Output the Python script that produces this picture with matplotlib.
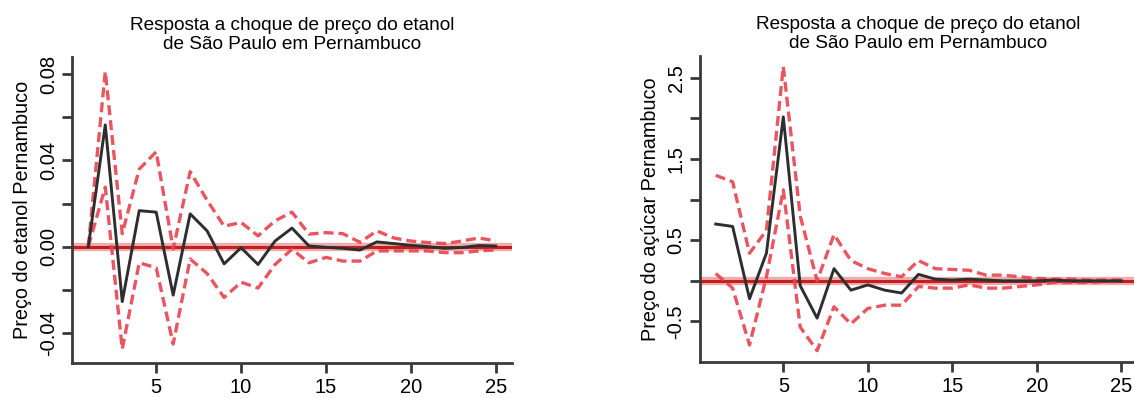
import numpy as np
import matplotlib
matplotlib.use("Agg")
import matplotlib.pyplot as plt

plt.rcParams['font.family'] = ['Liberation Sans', 'DejaVu Sans']

periods = list(range(1, 26))

# etanol Pernambuco
etanol_mean = [0.0, 0.0565, -0.0255, 0.0167, 0.0160, -0.0225, 0.0152, 0.0073, -0.0080, -0.0005,
               -0.0083, 0.0026, 0.0086, 0.0003, -0.0003, -0.0008, -0.0016, 0.0022, 0.0014, 0.0006,
               0.0, -0.0008, -0.0004, 0.0005, 0.0003]
etanol_upper = [0.0, 0.0813, 0.0060, 0.0360, 0.0440, -0.0010, 0.0348, 0.0215, 0.0095, 0.0112,
                0.0050, 0.0120, 0.0160, 0.0058, 0.0065, 0.0060, 0.0020, 0.0073, 0.0040, 0.0026,
                0.0019, 0.0014, 0.0026, 0.0040, 0.0027]
etanol_lower = [0.0, 0.0276, -0.0475, -0.0075, -0.0098, -0.0452, -0.0057, -0.0125, -0.0236, -0.0165,
                -0.0192, -0.0083, -0.0012, -0.0075, -0.0050, -0.0067, -0.0067, -0.0020, -0.0020, -0.0020,
                -0.0020, -0.0028, -0.0028, -0.0020, -0.0015]

# acucar Pernambuco
acucar_mean = [0.70, 0.67, -0.22, 0.34, 2.02, -0.06, -0.46, 0.15, -0.115, -0.05,
               -0.115, -0.15, 0.08, 0.02, 0.01, 0.02, 0.01, 0.0, 0.0, 0.0,
               0.01, 0.0, 0.0, 0.0, 0.0]
acucar_upper = [1.30, 1.22, 0.34, 0.62, 2.64, 0.80, 0.0, 0.57, 0.25, 0.15,
                0.09, 0.05, 0.25, 0.15, 0.14, 0.13, 0.07, 0.07, 0.05, 0.03,
                0.02, 0.02, 0.01, 0.01, 0.01]
acucar_lower = [0.09, -0.09, -0.79, 0.05, 1.12, -0.57, -0.86, -0.32, -0.53, -0.34,
                -0.30, -0.30, -0.07, -0.09, -0.09, -0.05, -0.09, -0.09, -0.07, -0.05,
                -0.02, -0.02, -0.02, -0.01, -0.01]

titulo = "Resposta a choque de preço do etanol\nde São Paulo em Pernambuco"
ylabels = ["Preço do etanol Pernambuco", "Preço do açúcar Pernambuco"]

etanol_ticks = [-0.04, -0.02, 0.0, 0.02, 0.04, 0.06, 0.08]
etanol_ticklabels = ["-0.04", "", "0.00", "", "0.04", "", "0.08"]
acucar_ticks = [-0.5, 0.0, 0.5, 1.0, 1.5, 2.0, 2.5]
acucar_ticklabels = ["-0.5", "", "0.5", "", "1.5", "", "2.5"]
xticks = [5, 10, 15, 20, 25]

W, H = 1134, 398
fig = plt.figure(figsize=(W / 100, H / 100), dpi=100)

ax1 = fig.add_axes([72 / W, 1 - 363 / H, 440 / W, 306 / H])
ax2 = fig.add_axes([699.5 / W, 1 - 362 / H, 438 / W, 306 / H])

panels = [
    (ax1, etanol_mean, etanol_upper, etanol_lower, (-0.054, 0.088), etanol_ticks, etanol_ticklabels, ylabels[0]),
    (ax2, acucar_mean, acucar_upper, acucar_lower, (-1.0, 2.77), acucar_ticks, acucar_ticklabels, ylabels[1]),
]

for ax, mean, up, lo, ylim, yt, ytl, ylab in panels:
    ax.axhline(0, color='#e06a6a', lw=6, alpha=0.55, zorder=1)
    ax.axhline(0, color='#c41e1e', lw=2.2, zorder=2)
    for band in (up, lo):
        ax.plot(periods, band, color='#e8434f', lw=2.4, alpha=0.9,
                dashes=(3.0, 1.5), zorder=3)
    ax.plot(periods, mean, color='#2e2e2e', lw=2.1, zorder=4)

    ax.set_xlim(0.04, 25.96)
    ax.set_ylim(*ylim)
    ax.set_xticks(xticks)
    ax.set_yticks(yt)
    ax.set_yticklabels(ytl, rotation=90, va='center')
    ax.tick_params(axis='both', direction='out', length=7, width=2,
                   color='#3a3a3a', labelsize=14.5, pad=4)
    ax.tick_params(axis='y', pad=3)
    for s in ('top', 'right'):
        ax.spines[s].set_visible(False)
    for s in ('left', 'bottom'):
        ax.spines[s].set_linewidth(2)
        ax.spines[s].set_color('#3a3a3a')
    ax.set_ylabel(ylab, fontsize=14.3, labelpad=5)
    ax.set_title(titulo, fontsize=13.7, pad=6, linespacing=1.15)

fig.savefig("out.png", dpi=100)
